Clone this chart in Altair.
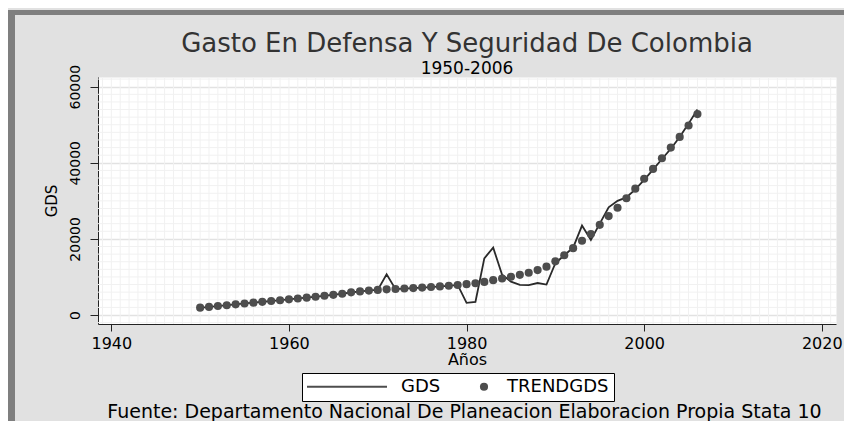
import altair as alt
import pandas as pd

# ---------------- data ----------------
years = list(range(1950, 2007))
gds = [1900, 2150, 2330, 2600, 2780, 3050, 3230, 3480, 3650, 3900,
       4100, 4350, 4550, 4820, 5000, 5350, 5550, 5980, 6150, 6450,
       6600, 10700, 6800, 6950, 7050, 7200, 7300, 7550, 7650, 7900,
       3200, 3450, 14900, 17700, 10600, 8750, 7900, 7850, 8400, 8000,
       13600, 15700, 17700, 23500, 19700, 24000, 28300, 30000, 30900, 33000,
       35500, 38200, 41000, 43700, 46800, 50300, 54000]
trend = [1930, 2130, 2350, 2570, 2800, 3030, 3250, 3460, 3680, 3890,
         4110, 4330, 4560, 4800, 5050, 5300, 5600, 5950, 6200, 6420,
         6600, 6740, 6850, 6950, 7070, 7200, 7350, 7520, 7700, 7900,
         8100, 8350, 8700, 9150, 9600, 10050, 10550, 11100, 11800, 12700,
         14100, 15700, 17560, 19500, 21300, 23700, 26000, 28200, 30700, 33200,
         35800, 38400, 41200, 44000, 46800, 49800, 52800]
series_names = ["GDS", "TRENDGDS"]
x_ticks = [1940, 1960, 1980, 2000, 2020]
y_ticks = [0, 20000, 40000, 60000]
minor_years = list(range(1939, 2022))
minor_values = [v for v in range(-2000, 62001, 2000) if v % 20000 != 0]
title_text = "Gasto En Defensa Y Seguridad De Colombia"
subtitle_text = "1950-2006"
caption_text = "Fuente: Departamento Nacional De Planeacion Elaboracion Propia Stata 10"

FONT = "DejaVu Sans"
W, H = 738, 247

df = pd.DataFrame({"year": years, "GDS": gds})
pts = pd.DataFrame({"year": years, "TRENDGDS": trend, "series": ["TRENDGDS"] * len(years)})

xscale = alt.Scale(domain=[1938.5, 2021.6], nice=False, zero=False)
yscale = alt.Scale(domain=[-2365, 62550], nice=False, zero=False)

xaxis = alt.Axis(values=x_ticks, format="d", title="Años", grid=False,
                 labelFont=FONT, labelFontSize=16, labelColor="black", labelPadding=4,
                 labelFlush=False, labelOverlap=False,
                 tickSize=7, tickColor="#222", tickWidth=1, domainColor="#222", domainWidth=1,
                 titleFont=FONT, titleFontSize=16, titleFontWeight="normal",
                 titleColor="black", titlePadding=0)
yaxis = alt.Axis(values=y_ticks, format="d", title="GDS", grid=True,
                 gridColor="#e2e2e2", gridWidth=1.6,
                 labelAngle=270, labelAlign="center", labelBaseline="bottom",
                 labelFont=FONT, labelFontSize=14, labelColor="black", labelPadding=8,
                 labelFlush=False, labelOverlap=False,
                 tickSize=8, tickColor="#222", tickWidth=1, domainColor="#222", domainWidth=1,
                 titleFont=FONT, titleFontSize=15, titleFontWeight="normal",
                 titleColor="black", titlePadding=9)

vminor = alt.Chart(pd.DataFrame({"year": minor_years})).mark_rule(
    color="#f1f1f1", strokeWidth=1).encode(
    x=alt.X("year:Q", scale=xscale, axis=xaxis))
hminor = alt.Chart(pd.DataFrame({"GDS": minor_values})).mark_rule(
    color="#f1f1f1", strokeWidth=1).encode(
    y=alt.Y("GDS:Q", scale=yscale, axis=yaxis))

line = alt.Chart(df).mark_line(color="#2a2a2a", strokeWidth=1.8).encode(
    x=alt.X("year:Q", scale=xscale, axis=xaxis),
    y=alt.Y("GDS:Q", scale=yscale, axis=yaxis))

legend = alt.Legend(title=None, orient="none", legendX=204, legendY=296,
                    direction="horizontal", strokeColor="black", fillColor="white",
                    padding=5, labelFont=FONT, labelFontSize=18, labelColor="black",
                    labelOffset=14, columnPadding=34, symbolOpacity=1, clipHeight=17,
                    symbolStrokeWidth=0, symbolFillColor="#3a3a3a", cornerRadius=0)

line_symbol = "M-1,-0.022H1V0.022H-1Z"
points = alt.Chart(pts).mark_point(filled=True, fill="#4d4d4d", opacity=1).encode(
    x=alt.X("year:Q", scale=xscale, axis=xaxis),
    y=alt.Y("TRENDGDS:Q", scale=yscale, axis=yaxis),
    shape=alt.Shape("series:N", scale=alt.Scale(domain=series_names, range=[line_symbol, "circle"]),
                    legend=legend),
    size=alt.Size("series:N", scale=alt.Scale(domain=series_names, range=[6400, 66]),
                  legend=legend))

caption = alt.Chart(pd.DataFrame({"t": [caption_text]})).mark_text(
    font=FONT, fontSize=19, color="black", align="center", baseline="alphabetic").encode(
    text="t:N", x=alt.value(366.5), y=alt.value(341))

top_band = alt.Chart(pd.DataFrame({"k": [0]})).mark_rule(color="#7f7f7f", strokeWidth=5).encode(
    x=alt.value(-90), x2=alt.value(746), y=alt.value(-64.5))
left_band = alt.Chart(pd.DataFrame({"k": [0]})).mark_rule(color="#7f7f7f", strokeWidth=7).encode(
    x=alt.value(-86.5), y=alt.value(-67), y2=alt.value(360))

chart = alt.layer(vminor, hminor, line, points, caption, top_band, left_band).properties(
    width=W, height=H,
    title=alt.TitleParams(text=title_text, subtitle=subtitle_text, anchor="middle", frame="group",
                          font=FONT, fontSize=26, fontWeight="normal", color="#333333",
                          subtitleFont=FONT, subtitleFontSize=17, subtitleColor="black",
                          subtitlePadding=4, offset=-70),
    background="#e1e1e1",
    padding={"left": 90, "top": 69, "right": 8, "bottom": 97},
    autosize=alt.AutoSizeParams(type="none"),
).configure_view(fill="white", strokeOpacity=0)

chart.save("out.html", embed_options={"renderer": "svg", "actions": False})
